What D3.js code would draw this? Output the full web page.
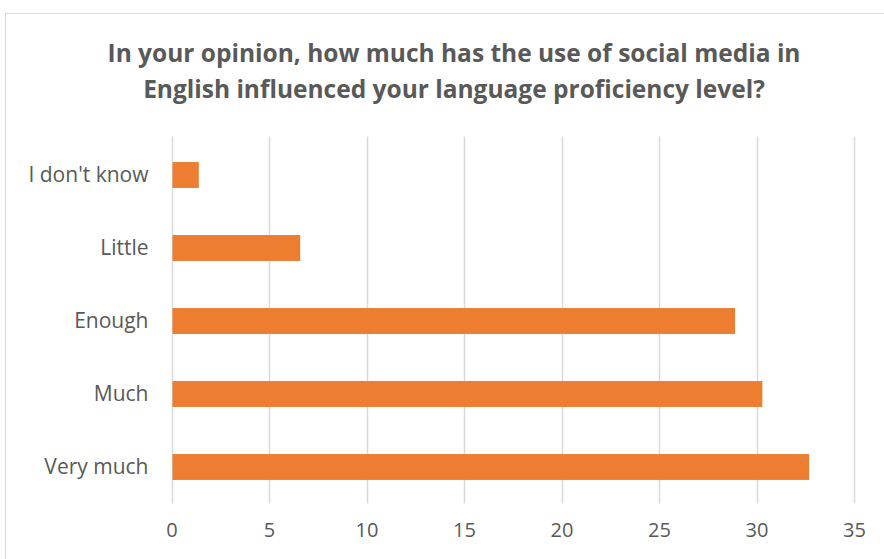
<!DOCTYPE html>
<html>
<head>
<meta charset="utf-8">
<script src="https://cdn.jsdelivr.net/npm/d3@7"></script>
<style>
  html, body { margin: 0; padding: 0; background: #fff; }
  svg { display: block; }
</style>
</head>
<body>
<svg id="chart" width="884" height="559"></svg>
<script>
// Survey answers, top to bottom
const categories = ["I don't know", "Little", "Enough", "Much", "Very much"];
const values = [1.4, 6.6, 28.9, 30.3, 32.7];
const tickValues = [0, 5, 10, 15, 20, 25, 30, 35];
const titleLines = [
  "In your opinion, how much has the use of social media in",
  "English influenced your language proficiency level?"
];

const svg = d3.select("#chart");
const W = 884, H = 559;
const fontFamily = "'Open Sans', 'Liberation Sans', sans-serif";

// Chart frame
svg.append("rect")
  .attr("x", 5.5).attr("y", 13.5)
  .attr("width", W + 10).attr("height", H)
  .attr("fill", "#fff")
  .attr("stroke", "#d9d9d9").attr("stroke-width", 1);

// Title
const title = svg.append("text")
  .attr("text-anchor", "middle")
  .attr("fill", "#595959")
  .attr("font-family", fontFamily)
  .attr("font-weight", "bold")
  .attr("font-size", 24.5);
titleLines.forEach((line, i) => {
  title.append("tspan")
    .attr("x", 454)
    .attr("y", 62 + i * 36)
    .text(line);
});

const plot = { left: 171.5, right: 854, top: 138.5, bottom: 503.5 };

const x = d3.scaleLinear()
  .domain([0, 35])
  .range([plot.left, plot.right]);

const y = d3.scaleBand()
  .domain(categories)
  .range([plot.top, plot.bottom])
  .paddingInner(0.645)
  .paddingOuter(0.3225);

// Vertical gridlines
svg.append("g")
  .selectAll("line")
  .data(tickValues)
  .join("line")
  .attr("x1", d => Math.round(x(d)) + 0.5)
  .attr("x2", d => Math.round(x(d)) + 0.5)
  .attr("y1", plot.top - 2)
  .attr("y2", plot.bottom)
  .attr("stroke", "#d9d9d9")
  .attr("stroke-width", 1.5);

// Bars
svg.append("g")
  .selectAll("rect")
  .data(categories)
  .join("rect")
  .attr("x", x(0) + 1)
  .attr("y", d => y(d))
  .attr("width", (d, i) => x(values[i]) - x(0) - 1)
  .attr("height", y.bandwidth())
  .attr("fill", "#ed7d31");

// Value axis labels
const xAxis = d3.axisBottom(x)
  .tickValues(tickValues)
  .tickSize(0)
  .tickPadding(0)
  .tickFormat(d3.format("d"));
const gx = svg.append("g")
  .attr("transform", `translate(0, ${plot.bottom + 19})`)
  .call(xAxis);
gx.select(".domain").remove();
gx.selectAll("text")
  .attr("fill", "#595959")
  .attr("font-family", fontFamily)
  .attr("font-size", 20)
  .attr("dy", "0.71em");

// Category axis labels
const yAxis = d3.axisLeft(y).tickSize(0).tickPadding(0);
const gy = svg.append("g")
  .attr("transform", `translate(${plot.left - 23}, 0)`)
  .call(yAxis);
gy.select(".domain").remove();
gy.selectAll("text")
  .attr("fill", "#595959")
  .attr("font-family", fontFamily)
  .attr("font-size", 21);
</script>
</body>
</html>
